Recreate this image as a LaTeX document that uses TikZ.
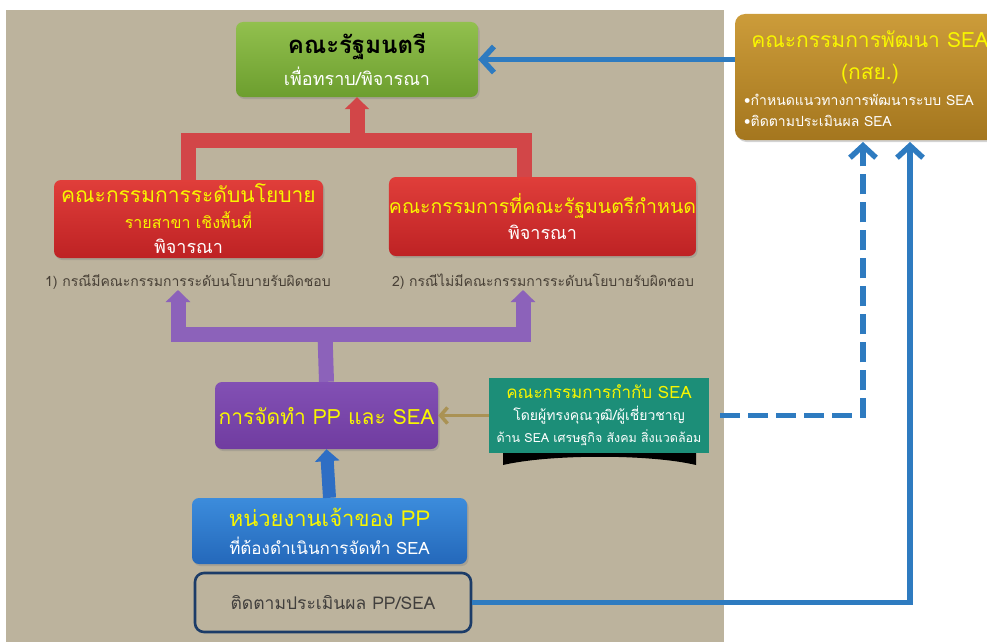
\documentclass[tikz,border=0pt]{standalone}
\usepackage{fontspec}
\setmainfont[Script=Thai]{Loma}
\usetikzlibrary{arrows.meta,shadows,calc}
\definecolor{panelc}{RGB}{188,179,157}
\definecolor{greenT}{RGB}{146,192,78}
\definecolor{greenB}{RGB}{108,158,46}
\definecolor{redT}{RGB}{224,62,58}
\definecolor{redB}{RGB}{190,34,36}
\definecolor{redbarc}{RGB}{210,70,72}
\definecolor{purT}{RGB}{130,80,180}
\definecolor{purB}{RGB}{112,60,160}
\definecolor{purbarc}{RGB}{140,98,186}
\definecolor{bluT}{RGB}{60,140,220}
\definecolor{bluB}{RGB}{36,104,186}
\definecolor{bluebarc}{RGB}{46,110,196}
\definecolor{goldT}{RGB}{204,156,58}
\definecolor{goldB}{RGB}{164,118,30}
\definecolor{tealc}{RGB}{28,142,120}
\definecolor{arrowblue}{RGB}{46,123,192}
\definecolor{olivec}{RGB}{170,146,84}
\definecolor{navyc}{RGB}{28,60,104}
\definecolor{labelc}{RGB}{72,64,54}
\definecolor{ylw}{RGB}{248,246,0}
\begin{document}
\begin{tikzpicture}[x=1pt,y=-1pt,
  box/.style={rounded corners=7pt, align=center, inner sep=0pt,
    drop shadow={shadow xshift=1.5pt,shadow yshift=-2pt,opacity=0.35}},
  greenbox/.style={box, top color=greenT, bottom color=greenB},
  redbox/.style={box, top color=redT, bottom color=redB},
  purbox/.style={box, top color=purT, bottom color=purB},
  blubox/.style={box, top color=bluT, bottom color=bluB},
  goldbox/.style={box, rounded corners=10pt, top color=goldT, bottom color=goldB},
  tealbox/.style={align=center, inner sep=0pt, fill=tealc},
  monbox/.style={rounded corners=9pt, draw=navyc, line width=2.6pt, align=center, inner sep=0pt},
  lbl/.style={text=labelc, font=\fontsize{14}{16}\selectfont, inner sep=0pt},
  redbar/.style={draw=redbarc, line width=15pt, line join=miter},
  purbar/.style={draw=purbarc, line width=15pt, line join=miter},
  fatarrow/.style={-{Triangle[length=12pt,width=24pt]}},
  bluearrow/.style={draw=arrowblue, line width=5.5pt, -{Straight Barb[length=12pt,width=26pt]}},
]
\useasboundingbox (0,0) rectangle (987,642);
\fill[panelc] (6,10) rectangle (724,642);

% boxes
\node[greenbox, minimum width=242pt, minimum height=75pt, font=\fontsize{24}{32}\selectfont] (g) at (357,59.5)
  {\color{black}\bfseries คณะรัฐมนตรี\\
   \fontsize{18}{32}\selectfont\color{white}เพื่อทราบ/พิจารณา};
\node[redbox, minimum width=269pt, minimum height=78pt, font=\fontsize{21}{25.5}\selectfont] (rl) at (188.5,219)
  {\color{ylw}คณะกรรมการระดับนโยบาย\\
   \fontsize{16}{25}\selectfont\color{ylw}รายสาขา เชิงพื้นที่\\
   \fontsize{18}{25}\selectfont\color{white}พิจารณา};
\node[redbox, minimum width=307pt, minimum height=79pt, font=\fontsize{19.5}{26}\selectfont] (rr) at (542.5,216.5)
  {\color{ylw}คณะกรรมการที่คณะรัฐมนตรีกำหนด\\
   \fontsize{18}{26}\selectfont\color{white}พิจารณา};
\node[lbl] (l1) at (188,282) {1) กรณีมีคณะกรรมการระดับนโยบายรับผิดชอบ};
\node[lbl] (l2) at (543,282) {2) กรณีไม่มีคณะกรรมการระดับนโยบายรับผิดชอบ};
\node[purbox, minimum width=223pt, minimum height=67pt, font=\fontsize{21}{26}\selectfont] (pp) at (326.5,415.5)
  {\color{ylw}การจัดทำ PP และ SEA};
\node[blubox, minimum width=275pt, minimum height=66pt, font=\fontsize{22}{28}\selectfont] (ho) at (329.5,531)
  {\color{ylw}หน่วยงานเจ้าของ PP\\
   \fontsize{17}{28}\selectfont\color{white}ที่ต้องดำเนินการจัดทำ SEA};
\node[monbox, minimum width=276pt, minimum height=59pt, font=\fontsize{17.5}{20}\selectfont] (mon) at (333,602.5)
  {\color{labelc!85!navyc}ติดตามประเมินผล PP/SEA};
\fill[black] (503,452) -- (696,452) -- (696,465) .. controls (650,454) and (550,454) .. (503,465) -- cycle;
\node[tealbox, minimum width=220pt, minimum height=75pt, font=\fontsize{17}{22}\selectfont] (te) at (599,415.5)
  {\color{ylw}คณะกรรมการกำกับ SEA\\
   \fontsize{14}{22}\selectfont\color{white}โดยผู้ทรงคุณวุฒิ/ผู้เชี่ยวชาญ\\
   \fontsize{12.5}{22}\selectfont\color{white}ด้าน SEA เศรษฐกิจ สังคม สิ่งแวดล้อม};
\node[goldbox, minimum width=270pt, minimum height=126pt] (go) at (870,77) {};
\node[align=center, inner sep=0pt, font=\fontsize{21}{32}\selectfont] (got) at (870,57)
  {\color{ylw}คณะกรรมการพัฒนา SEA\\
   \color{ylw}(กสย.)};
\node[align=left, anchor=west, inner sep=0pt, font=\fontsize{14}{21}\selectfont] (gob) at (744,110)
  {\color{white}•กำหนดแนวทางการพัฒนาระบบ SEA\\
   \color{white}•ติดตามประเมินผล SEA};

% red connector
\coordinate (rj) at (357,140.5);
\coordinate (rrt) at (524,176.5);
\draw[redbar] (rl.north) |- (rj) -| (rrt);
\draw[redbar, fatarrow] (rj) -- (g.south);

% purple connector
\coordinate (pj) at (325,334.5);
\coordinate (pl) at (178,290);
\coordinate (pr) at (523,290);
\draw[purbar] (pp.north) -- (pj);
\draw[purbar, fatarrow] (pj) -| (pl);
\draw[purbar, fatarrow] (pj) -| (pr);

% blue fat arrow
\draw[draw=bluebarc, line width=13pt, -{Triangle[length=12pt,width=24pt]}] (ho.north) -- (pp.south);

% olive arrow
\draw[draw=olivec, line width=3.5pt, -{Straight Barb[length=7pt,width=16pt]}] (te.west) -- (pp.east);

% blue arrows to/from gold box
\draw[bluearrow] (go.west |- g.east) -- (g.east);
\coordinate (gd) at (863,142);
\coordinate (gs) at (910,142);
\draw[bluearrow, dash pattern=on 20pt off 8pt] ([xshift=11pt]te.east) -| (gd);
\draw[bluearrow] (mon.east) -| (gs);
\end{tikzpicture}
\end{document}
